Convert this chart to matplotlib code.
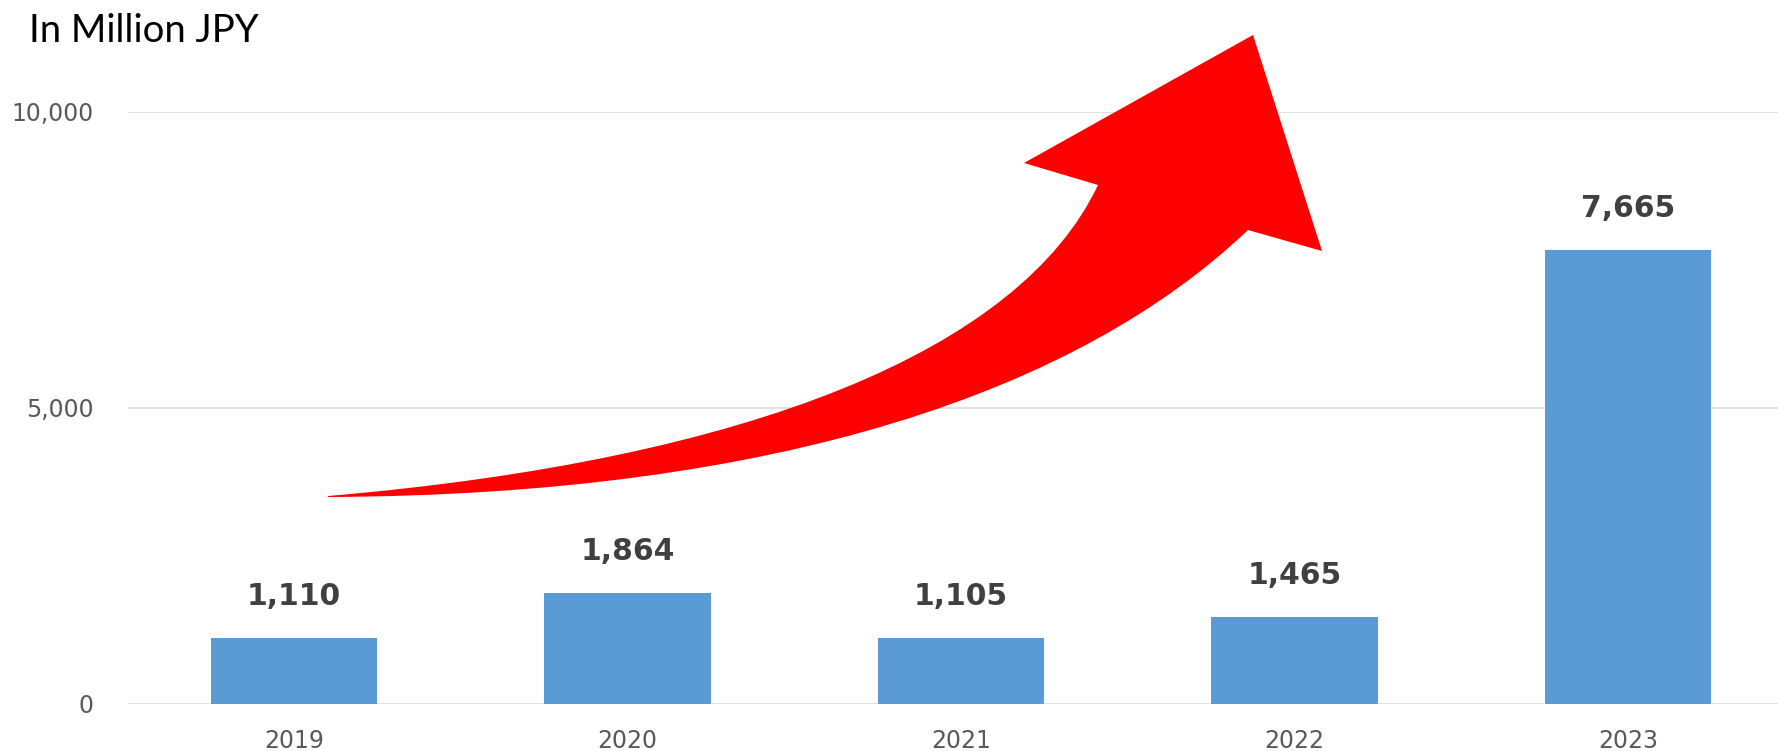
import matplotlib
matplotlib.use("Agg")
import matplotlib.pyplot as plt
from matplotlib.path import Path
from matplotlib.patches import PathPatch

years = ["2019", "2020", "2021", "2022", "2023"]
sales = [1110, 1864, 1105, 1465, 7665]
y_ticks = [0, 5000, 10000]

W, H = 1778, 751
fig = plt.figure(figsize=(W / 100, H / 100), dpi=100)
ax = fig.add_axes([128 / W, 1 - 703.5 / H, 1 - 128 / W, (703.5 - 111.5) / H])

x = list(range(len(years)))
ax.bar(x, sales, width=0.5, color="#5B9BD5", zorder=2)
for xi, v in zip(x, sales):
    ax.annotate(f"{v:,}", (xi, v), xytext=(0, 30), textcoords="offset points",
                ha="center", va="center", fontsize=21.5, fontweight="bold",
                color="#404040")

ax.set_xlim(-0.498, 4.45)
ax.set_ylim(0, 10000)
ax.set_xticks(x)
ax.set_xticklabels(years)
ax.set_yticks(y_ticks)
ax.set_yticklabels([f"{t:,}" for t in y_ticks])
ax.tick_params(axis="both", length=0, labelsize=17, labelcolor="#595959")
ax.tick_params(axis="y", pad=25)
ax.tick_params(axis="x", pad=18)
ax.grid(axis="y", color="#D9D9D9", linewidth=1.1, zorder=0)
ax.set_axisbelow(True)
for s in ax.spines.values():
    s.set_visible(False)

fig.text(29 / W, 1 - 42 / H, "In Million JPY", fontsize=27.5, family="Lato",
         va="baseline", ha="left", color="black")

# red curved arrow (decoration), pixel coords from top-left
def fp(px, py):
    return (px / W, 1 - py / H)

verts = [
    fp(328, 496),
    fp(750, 460), fp(1020, 350), fp(1098, 185),
    fp(1024, 163),
    fp(1253, 35),
    fp(1322, 251),
    fp(1248, 230),
    fp(1080, 390), fp(780, 495), fp(328, 497),
    fp(328, 496),
]
codes = [Path.MOVETO,
         Path.CURVE4, Path.CURVE4, Path.CURVE4,
         Path.LINETO, Path.LINETO, Path.LINETO, Path.LINETO,
         Path.CURVE4, Path.CURVE4, Path.CURVE4,
         Path.CLOSEPOLY]
arrow = PathPatch(Path(verts, codes), facecolor="#FF0000", edgecolor="none",
                  transform=fig.transFigure, zorder=5)
fig.patches.append(arrow)

fig.savefig("out.png", dpi=100)
